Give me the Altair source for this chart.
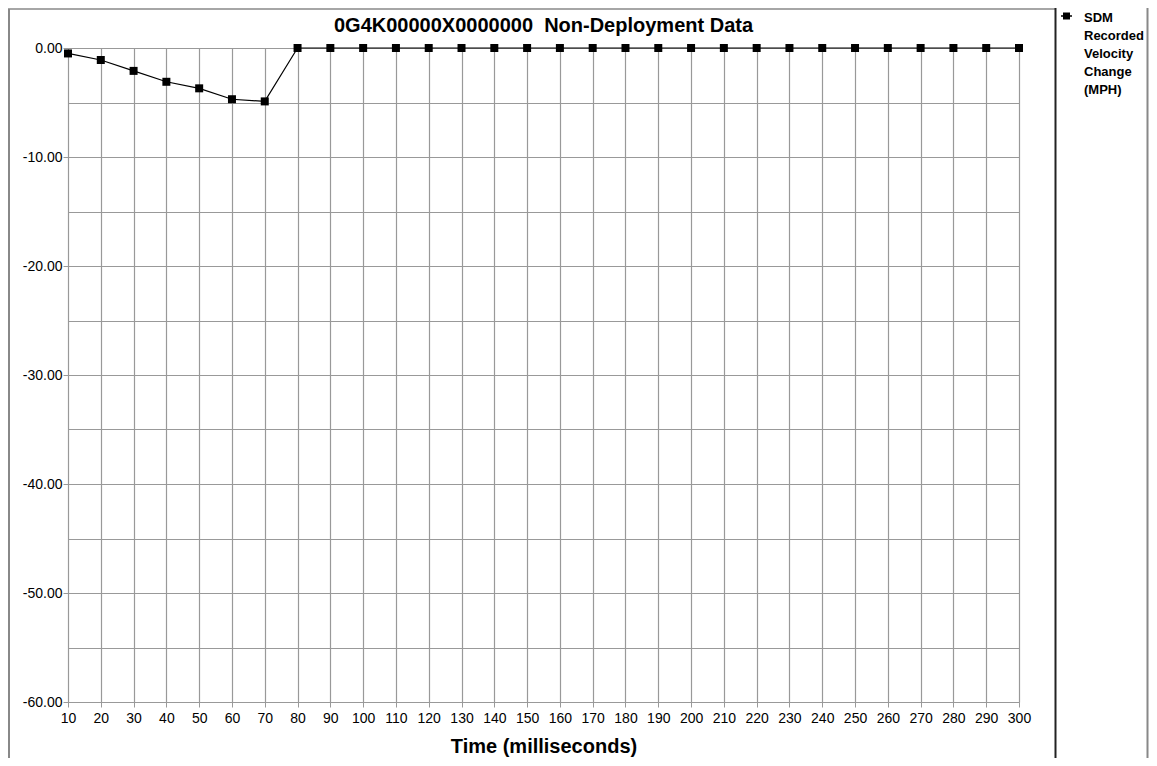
import altair as alt
import pandas as pd

# ---- data ----
time_ms = [10, 20, 30, 40, 50, 60, 70, 80, 90, 100,
           110, 120, 130, 140, 150, 160, 170, 180, 190, 200,
           210, 220, 230, 240, 250, 260, 270, 280, 290, 300]
velocity_mph = [-0.5, -1.1, -2.1, -3.1, -3.7, -4.7, -4.9, 0.0, 0.0, 0.0,
                0.0, 0.0, 0.0, 0.0, 0.0, 0.0, 0.0, 0.0, 0.0, 0.0,
                0.0, 0.0, 0.0, 0.0, 0.0, 0.0, 0.0, 0.0, 0.0, 0.0]
y_grid_values = [-60, -55, -50, -45, -40, -35, -30, -25, -20, -15, -10, -5, 0]
chart_title = "0G4K00000X0000000  Non-Deployment Data"
x_title = "Time (milliseconds)"
series_label_lines = ["SDM", "Recorded", "Velocity", "Change", "(MPH)"]

FONT = "Liberation Sans"
GRID = "#999999"
PLOT_W, PLOT_H = 951, 654

df = pd.DataFrame({"time": time_ms, "velocity": velocity_mph})

x_enc = alt.X(
    "time:Q",
    scale=alt.Scale(domain=[10, 300], nice=False, zero=False),
    axis=alt.Axis(
        values=time_ms, tickCount=100, title=x_title, grid=True, gridColor=GRID, gridWidth=1.2,
        domainColor=GRID, tickColor=GRID, tickSize=5,
        labelFont=FONT, labelFontSize=14, labelColor="black", labelPadding=4,
        labelFlush=False, labelOverlap=False,
        titleFont=FONT, titleFontSize=20, titleFontWeight="bold",
        titleColor="black", titlePadding=11,
    ),
)
y_enc = alt.Y(
    "velocity:Q",
    scale=alt.Scale(domain=[-60, 0], nice=False, zero=False),
    axis=alt.Axis(
        values=y_grid_values, tickCount=100, title=None, grid=True, gridColor=GRID, gridWidth=1.2,
        domainColor=GRID, tickColor=GRID, tickSize=5,
        tickOpacity={"condition": {"test": "datum.value % 10 === 0", "value": 1}, "value": 0},
        labelExpr="datum.value % 10 === 0 ? ((datum.value < 0 ? '-' : '') + format(abs(datum.value), '.2f')) : ''",
        labelFont=FONT, labelFontSize=14, labelColor="black", labelPadding=1,
        labelOverlap=False,
    ),
)

line = alt.Chart(df).mark_line(color="black", strokeWidth=1.2).encode(x=x_enc, y=y_enc)
points = alt.Chart(df).mark_point(
    shape="square", filled=True, size=64, color="black", opacity=1
).encode(x="time:Q", y="velocity:Q")

deco = alt.Chart(pd.DataFrame({"k": [0]}))

# SVG collapses repeated spaces, so keep the double gap with no-break spaces
title_display = chart_title.replace("  ", "\u00a0\u00a0")
title_text = deco.mark_text(
    align="center", baseline="alphabetic", font=FONT, fontSize=20,
    fontWeight="bold", color="black"
).encode(x=alt.value(PLOT_W / 2), y=alt.value(-16), text=alt.value(title_display))

legend_line = deco.mark_rule(color="black", strokeWidth=1.5).encode(
    x=alt.value(993), x2=alt.value(1004), y=alt.value(-32))
legend_sq = deco.mark_point(
    shape="square", filled=True, size=49, color="black", opacity=1
).encode(x=alt.value(998.5), y=alt.value(-32))
legend_text = deco.mark_text(
    align="left", baseline="top", font=FONT, fontSize=13, fontWeight="bold",
    lineHeight=18, lineBreak="\n", color="black"
).encode(x=alt.value(1016), y=alt.value(-36), text=alt.value("\n".join(series_label_lines)))

frame_left = deco.mark_rule(color="#888888", strokeWidth=2).encode(
    x=alt.value(-59), y=alt.value(-39), y2=alt.value(720))
frame_top = deco.mark_rule(color="#888888", strokeWidth=1.5).encode(
    x=alt.value(-60), x2=alt.value(988), y=alt.value(-39))
frame_mid = deco.mark_rule(color="#222222", strokeWidth=2).encode(
    x=alt.value(987.5), y=alt.value(-40), y2=alt.value(720))
frame_right = deco.mark_rule(color="#888888", strokeWidth=2).encode(
    x=alt.value(1079.5), y=alt.value(-40), y2=alt.value(720))

chart = alt.layer(
    line, points, title_text, legend_line, legend_sq, legend_text,
    frame_left, frame_top, frame_mid, frame_right,
).properties(
    width=PLOT_W, height=PLOT_H,
    autosize=alt.AutoSizeParams(type="none"),
    padding={"left": 60, "top": 40, "right": 130, "bottom": 56},
    background="white",
).configure_view(stroke=None)

chart.save("out.html", embed_options={"renderer": "svg", "actions": False})
